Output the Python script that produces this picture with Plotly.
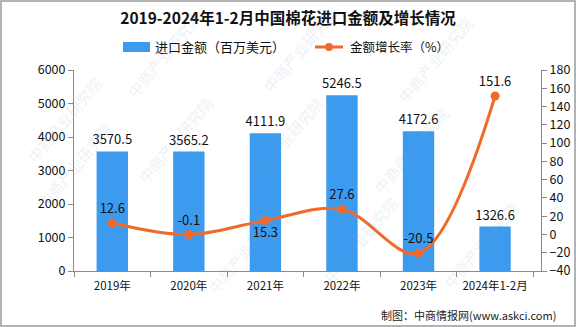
import plotly.graph_objects as go

# Cotton import value (million USD) and year-on-year growth (%)
categories = ["2019年", "2020年", "2021年", "2022年", "2023年", "2024年1-2月"]
import_value = [3570.5, 3565.2, 4111.9, 5246.5, 4172.6, 1326.6]
growth_rate = [12.6, -0.1, 15.3, 27.6, -20.5, 151.6]
growth_label_pos = ["top center", "top center", "bottom center", "top center", "top center", "top center"]
bar_name = "进口金额（百万美元）"
line_name = "金额增长率（%）"

W, H = 576, 327
ML, MR, MT, MB = 74, 35, 70, 56
font_family = "Noto Sans CJK SC, Noto Sans, sans-serif"
axis_color = "#8a8a8a"
bar_color = "#3d9bef"
line_color = "#f26a2a"

fig = go.Figure()

fig.add_trace(go.Bar(
    x=categories, y=import_value, name=bar_name,
    marker=dict(color=bar_color, line=dict(width=0)),
    width=0.41,
    text=[f"{v:.1f}" for v in import_value], textposition="outside",
    constraintext="none",
    textfont=dict(size=13, color="#111111", family=font_family),
    cliponaxis=False, showlegend=False,
))

fig.add_trace(go.Scatter(
    x=categories, y=growth_rate, name=line_name, yaxis="y2",
    mode="lines+markers+text",
    line=dict(color=line_color, width=3, shape="spline", smoothing=1.0),
    marker=dict(color=line_color, size=9),
    text=[f"{v:.1f}" for v in growth_rate], textposition=growth_label_pos,
    textfont=dict(size=13, color="#111111", family=font_family),
    cliponaxis=False, showlegend=False,
))


def px_to_paper(px, py):
    pw = W - ML - MR
    ph = H - MT - MB
    return (px - ML) / pw, 1 - (py - MT) / ph


annotations = []
shapes = []

# Faint diagonal watermark text
wm_centers = [(20, 70), (130, 140), (285, 140), (455, 150), (30, 215),
              (200, 300), (360, 290), (525, 295), (120, 5), (300, 0), (480, 10)]
for cx, cy in wm_centers:
    xp, yp = px_to_paper(cx, cy)
    annotations.append(dict(
        x=xp, y=yp, xref="paper", yref="paper", text="中商产业研究院",
        showarrow=False, textangle=-50, opacity=0.13,
        font=dict(size=15, color="#6f9cc4", family=font_family),
    ))

# Legend drawn by hand: bar swatch, line-with-marker swatch, labels
ly = 47
ax0, ay0 = px_to_paper(123, ly - 5)
ax1, ay1 = px_to_paper(150, ly + 5)
shapes.append(dict(type="rect", xref="paper", yref="paper", x0=ax0, x1=ax1, y0=ay1, y1=ay0,
                   fillcolor=bar_color, line=dict(width=0)))
tx, ty = px_to_paper(153, ly)
annotations.append(dict(x=tx, y=ty, xref="paper", yref="paper", xanchor="left", yanchor="middle",
                        text=bar_name, showarrow=False,
                        font=dict(size=13, color="#111111", family=font_family)))
lx0, lyp = px_to_paper(315, ly)
lx1, _ = px_to_paper(343, ly)
shapes.append(dict(type="line", xref="paper", yref="paper", x0=lx0, x1=lx1, y0=lyp, y1=lyp,
                   line=dict(color=line_color, width=3)))
cx0, cy0 = px_to_paper(325, ly - 4)
cx1, cy1 = px_to_paper(333, ly + 4)
shapes.append(dict(type="circle", xref="paper", yref="paper", x0=cx0, x1=cx1, y0=cy1, y1=cy0,
                   fillcolor=line_color, line=dict(width=0)))
tx, ty = px_to_paper(348, ly)
annotations.append(dict(x=tx, y=ty, xref="paper", yref="paper", xanchor="left", yanchor="middle",
                        text=line_name, showarrow=False,
                        font=dict(size=12.5, color="#111111", family=font_family)))

# Source note
sx, sy = px_to_paper(W - 18, 315)
annotations.append(dict(
    x=sx, y=sy, xref="paper", yref="paper", xanchor="right", yanchor="middle",
    text="制图：中商情报网(www.askci.com)", showarrow=False,
    font=dict(size=11, color="#222222", family=font_family),
))

# Outer frame around the whole figure
x0, y0 = px_to_paper(1, 1)
x1, y1 = px_to_paper(W - 1, H - 1)
shapes.append(dict(type="rect", xref="paper", yref="paper", x0=x0, y0=y1, x1=x1, y1=y0,
                   line=dict(color="#9a9a9a", width=1.5), layer="below"))

fig.update_layout(
    width=W, height=H,
    margin=dict(l=ML, r=MR, t=MT, b=MB, autoexpand=False),
    paper_bgcolor="white", plot_bgcolor="white",
    font=dict(family=font_family, size=12, color="#111111"),
    showlegend=False,
    title=dict(text="<b>2019-2024年1-2月中国棉花进口金额及增长情况</b>",
               x=0.5, xref="container", xanchor="center",
               y=1 - 19 / H, yref="container", yanchor="middle",
               font=dict(size=15.5, color="#111111", family=font_family)),
    xaxis=dict(showline=True, linecolor=axis_color, linewidth=1,
               ticks="outside", tickson="boundaries", ticklen=5, tickcolor=axis_color,
               tickfont=dict(size=11.5, color="#111111"), showgrid=False,
               ticklabelstandoff=4, range=[-0.5, 5.6]),
    yaxis=dict(range=[0, 6000], dtick=1000, showline=True, linecolor=axis_color,
               ticks="outside", ticklen=5, tickcolor=axis_color, showgrid=False,
               zeroline=False, tickfont=dict(size=12.5, color="#111111")),
    yaxis2=dict(range=[-40, 180], dtick=20, overlaying="y", side="right",
                showline=True, linecolor=axis_color, ticks="outside", ticklen=5,
                tickcolor=axis_color, showgrid=False, zeroline=False,
                tickfont=dict(size=12.5, color="#111111")),
    annotations=annotations, shapes=shapes,
)

fig.write_html("out.html")
